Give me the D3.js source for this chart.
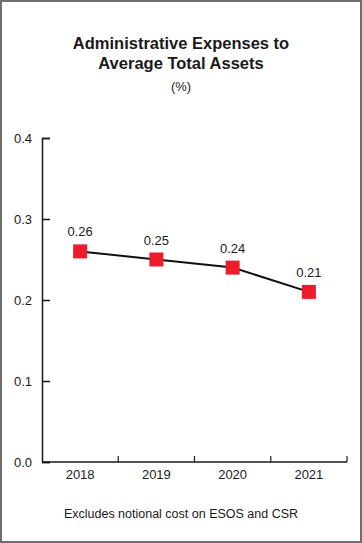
<!DOCTYPE html>
<html>
<head>
<meta charset="utf-8">
<script src="https://cdn.jsdelivr.net/npm/d3@7"></script>
<style>
  body { margin: 0; background: #fff; }
  text { font-family: "Liberation Sans", Arial, sans-serif; fill: #1a1a1a; }
</style>
</head>
<body>
<div id="chart"></div>
<script>
const years = ["2018", "2019", "2020", "2021"]
const values = [0.26, 0.25, 0.24, 0.21]
const yTicks = [0, 0.1, 0.2, 0.3, 0.4]

const W = 362, H = 543
const margin = {top: 138, right: 15, bottom: 81, left: 42}
const width = W - margin.left - margin.right
const height = H - margin.top - margin.bottom
const font = "Liberation Sans, Arial, sans-serif"

const root = d3.select("#chart").append("svg")
    .attr("width", W)
    .attr("height", H)

// outer frame
root.append("rect")
    .attr("x", 1).attr("y", 1)
    .attr("width", W - 2).attr("height", H - 2)
    .attr("fill", "none")
    .attr("stroke", "#6e6e6e")
    .attr("stroke-width", 2)

// titles
root.append("text")
    .attr("x", W / 2).attr("y", 49)
    .attr("text-anchor", "middle")
    .style("font-size", "16.5px").style("font-weight", "bold")
    .text("Administrative Expenses to")
root.append("text")
    .attr("x", W / 2).attr("y", 69)
    .attr("text-anchor", "middle")
    .style("font-size", "16.5px").style("font-weight", "bold")
    .text("Average Total Assets")
root.append("text")
    .attr("x", W / 2).attr("y", 91)
    .attr("text-anchor", "middle")
    .style("font-size", "13px")
    .text("(%)")

// footnote
root.append("text")
    .attr("x", W / 2).attr("y", 518)
    .attr("text-anchor", "middle")
    .style("font-size", "12.5px")
    .text("Excludes notional cost on ESOS and CSR")

const svg = root.append("g")
    .attr("transform", "translate(" + margin.left + "," + margin.top + ")")

const xScale = d3.scaleBand().domain(years).range([0, width])
const yScale = d3.scaleLinear().domain([0, 0.4]).range([height, 0])

// y axis, ticks pointing inward
const yAxis = svg.append("g")
    .call(d3.axisLeft(yScale).tickValues(yTicks).tickFormat(d3.format(".1f")).tickSize(-8).tickPadding(10))
yAxis.select(".domain").attr("stroke", "#1a1a1a").attr("stroke-width", 1.5)
yAxis.selectAll(".tick line").attr("stroke", "#1a1a1a").attr("stroke-width", 1.5)
yAxis.selectAll(".tick text").style("font-size", "13px").style("font-family", font).attr("fill", "#1a1a1a")

// x axis: line with band-boundary ticks
svg.append("line")
    .attr("x1", 0).attr("x2", width)
    .attr("y1", height).attr("y2", height)
    .attr("stroke", "#1a1a1a").attr("stroke-width", 1.5)
svg.selectAll(".xtick")
    .data(years)
    .enter().append("line")
    .attr("class", "xtick")
    .attr("x1", d => xScale(d) + xScale.bandwidth())
    .attr("x2", d => xScale(d) + xScale.bandwidth())
    .attr("y1", height).attr("y2", height - 6)
    .attr("stroke", "#1a1a1a").attr("stroke-width", 1.2)
svg.selectAll(".xlabel")
    .data(years)
    .enter().append("text")
    .attr("class", "xlabel")
    .attr("x", d => xScale(d) + xScale.bandwidth() / 2)
    .attr("y", height + 17)
    .attr("text-anchor", "middle")
    .style("font-size", "13px")
    .text(d => d)

const pts = years.map((y, i) => ({year: y, value: values[i]}))
const cx = d => xScale(d.year) + xScale.bandwidth() / 2

svg.append("path")
    .datum(pts)
    .attr("fill", "none")
    .attr("stroke", "#111")
    .attr("stroke-width", 2)
    .attr("d", d3.line().x(cx).y(d => yScale(d.value)))

const size = 14
svg.selectAll(".marker")
    .data(pts)
    .enter().append("rect")
    .attr("class", "marker")
    .attr("x", d => cx(d) - size / 2)
    .attr("y", d => yScale(d.value) - size / 2)
    .attr("width", size).attr("height", size)
    .attr("fill", "#ec1c2b")

svg.selectAll(".vlabel")
    .data(pts)
    .enter().append("text")
    .attr("class", "vlabel")
    .attr("x", cx)
    .attr("y", d => yScale(d.value) - 15)
    .attr("text-anchor", "middle")
    .style("font-size", "13px")
    .text(d => d3.format(".2f")(d.value))
</script>
</body>
</html>
